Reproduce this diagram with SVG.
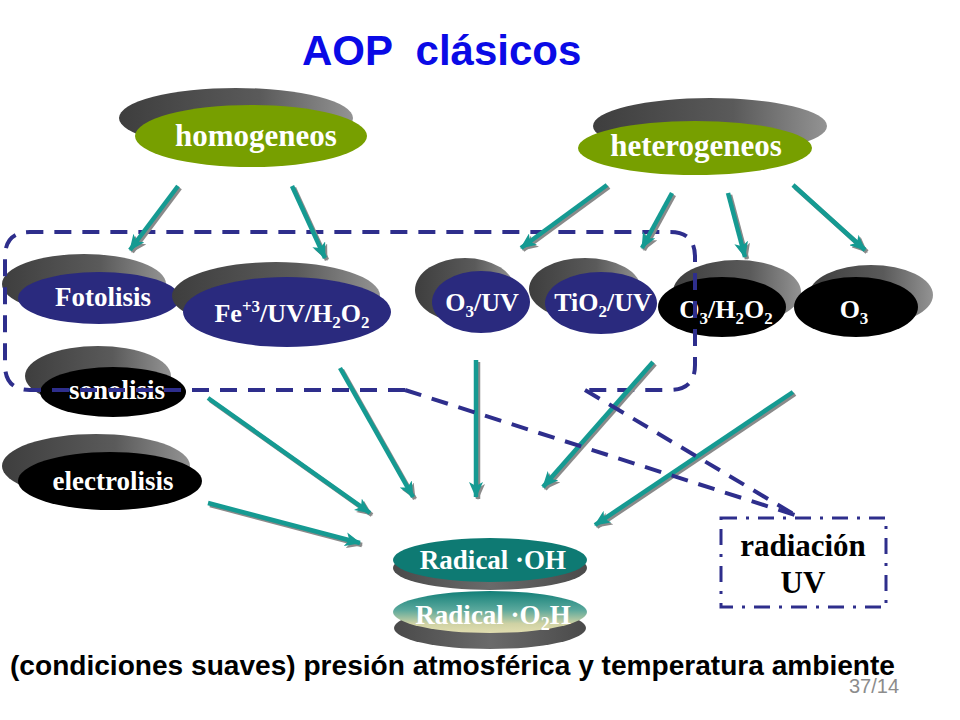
<svg xmlns="http://www.w3.org/2000/svg" width="960" height="720" viewBox="0 0 960 720">
<style>
.nt{font-family:"Liberation Serif","Times New Roman",serif;font-weight:bold;fill:#fff;text-anchor:middle}
.bt{font-family:"Liberation Serif","Times New Roman",serif;font-weight:bold;fill:#000;text-anchor:middle}
.sh{fill:url(#gsh)}
.green{fill:#779f00}
.navy{fill:#2a2a7e}
.blk{fill:#000}
.arr{stroke:#159a92;stroke-width:4.5;fill:none;marker-end:url(#ah)}
.arrs{stroke:#8a8a8a;stroke-width:4.5;fill:none;marker-end:url(#ahs)}
.dash{stroke:#2e2e8c;stroke-width:4;fill:none;stroke-dasharray:17 11}
</style>
<defs>
<linearGradient id="gsh" x1="0" y1="0" x2="1" y2="0">
<stop offset="0" stop-color="#3e3e3e"/>
<stop offset="0.6" stop-color="#5a5a5a"/>
<stop offset="1" stop-color="#939393"/>
</linearGradient>
<linearGradient id="gsh2" x1="0" y1="0" x2="1" y2="0">
<stop offset="0" stop-color="#4a4a4a"/>
<stop offset="0.5" stop-color="#6a6a6a"/>
<stop offset="1" stop-color="#4a4a4a"/>
</linearGradient>
<linearGradient id="go2h" x1="0" y1="0" x2="0" y2="1">
<stop offset="0" stop-color="#127f78"/>
<stop offset="0.45" stop-color="#5aa89c"/>
<stop offset="0.78" stop-color="#cfd2a4"/>
<stop offset="1" stop-color="#e2deb0"/>
</linearGradient>
<marker id="ah" markerUnits="userSpaceOnUse" viewBox="0 0 16 14" refX="15" refY="7" markerWidth="16" markerHeight="14" orient="auto">
<path d="M0,0 L16,7 L0,14 L4,7 z" fill="#159a92"/>
</marker>
<marker id="ahs" markerUnits="userSpaceOnUse" viewBox="0 0 16 14" refX="15" refY="7" markerWidth="16" markerHeight="14" orient="auto">
<path d="M0,0 L16,7 L0,14 L4,7 z" fill="#8a8a8a"/>
</marker>
</defs>
<rect width="960" height="720" fill="#fff"/>

<text x="302" y="65" xml:space="preserve" font-family="Liberation Sans, Arial, sans-serif" font-weight="bold" font-size="42" fill="#0a0ae6">AOP  clásicos</text>

<g id="homogeneos">
<ellipse class="sh" cx="236" cy="118" rx="117" ry="30"/>
<ellipse class="green" cx="251" cy="136" rx="116" ry="31"/>
<text class="nt" x="256" y="146" font-size="31">homogeneos</text>
</g>
<g id="heterogeneos">
<ellipse class="sh" cx="710" cy="126" rx="117" ry="28"/>
<ellipse class="green" cx="695" cy="148" rx="117" ry="27"/>
<text class="nt" x="696" y="156" font-size="31">heterogeneos</text>
</g>
<g id="fotolisis">
<ellipse class="sh" cx="84" cy="284" rx="82" ry="30"/>
<ellipse class="navy" cx="99" cy="298" rx="81" ry="26"/>
<text class="nt" x="103" y="306" font-size="27">Fotolisis</text>
</g>
<g id="fenton">
<ellipse class="sh" cx="276" cy="296" rx="104" ry="34"/>
<ellipse class="navy" cx="287" cy="312" rx="104" ry="35"/>
<text class="nt" x="292" y="322" font-size="26">Fe<tspan font-size="17" dy="-10">+3</tspan><tspan dy="10">/UV/H</tspan><tspan font-size="17" dy="6">2</tspan><tspan dy="-6">O</tspan><tspan font-size="17" dy="6">2</tspan></text>
</g>
<g id="sonolisis">
<ellipse class="sh" cx="98" cy="376" rx="73" ry="30"/>
<ellipse class="blk" cx="113" cy="392" rx="73" ry="25"/>
<text class="nt" x="117" y="399" font-size="27">sonolisis</text>
</g>
<g id="electrolisis">
<ellipse class="sh" cx="96" cy="466" rx="94" ry="32"/>
<ellipse class="blk" cx="110" cy="481" rx="92" ry="29"/>
<text class="nt" x="113" y="490" font-size="27">electrolisis</text>
</g>
<g id="o3uv">
<ellipse class="sh" cx="465" cy="290" rx="50" ry="32"/>
<ellipse class="navy" cx="481" cy="302" rx="49" ry="31"/>
<text class="nt" x="482" y="311" font-size="26">O<tspan font-size="17" dy="6">3</tspan><tspan dy="-6">/UV</tspan></text>
</g>
<g id="tio2uv">
<ellipse class="sh" cx="585" cy="289" rx="56" ry="31"/>
<ellipse class="navy" cx="601" cy="303" rx="56" ry="31"/>
<text class="nt" x="603" y="311" font-size="26">TiO<tspan font-size="17" dy="6">2</tspan><tspan dy="-6">/UV</tspan></text>
</g>
<g id="o3h2o2">
<ellipse class="sh" cx="737" cy="292" rx="64" ry="32"/>
<ellipse class="blk" cx="722" cy="307" rx="64" ry="30"/>
<text class="nt" x="726" y="318" font-size="26">O<tspan font-size="17" dy="6">3</tspan><tspan dy="-6">/H</tspan><tspan font-size="17" dy="6">2</tspan><tspan dy="-6">O</tspan><tspan font-size="17" dy="6">2</tspan></text>
</g>
<g id="o3">
<ellipse class="sh" cx="871" cy="295" rx="62" ry="30"/>
<ellipse class="blk" cx="856" cy="307" rx="62" ry="30"/>
<text class="nt" x="854" y="318" font-size="26">O<tspan font-size="17" dy="6">3</tspan></text>
</g>
<g id="radical-oh">
<ellipse fill="url(#gsh2)" cx="490" cy="568" rx="97" ry="22"/>
<ellipse fill="#0e7a73" cx="490" cy="560" rx="97" ry="22"/>
<text class="nt" x="493" y="569" font-size="27">Radical ·OH</text>
</g>
<g id="radical-o2h">
<ellipse fill="url(#gsh2)" cx="490" cy="628" rx="96" ry="21"/>
<ellipse fill="url(#go2h)" cx="490" cy="612" rx="97" ry="21"/>
<text class="nt" x="493" y="624" font-size="27">Radical ·O<tspan font-size="18" dy="6">2</tspan><tspan dy="-6">H</tspan></text>
</g>
<g id="radiacion-uv">
<rect x="721" y="518" width="165" height="89" fill="none" stroke="#2e2e8c" stroke-width="3" stroke-dasharray="16 9 3 9"/>
<text class="bt" x="803" y="556" font-size="31">radiación</text>
<text class="bt" x="803" y="593" font-size="31">UV</text>
</g>

<g id="region-box">
<path class="dash" d="M405,390 L30,390 Q5,390 5,365 L5,257 Q5,232 30,232 L670,232 Q695,232 695,257 L695,365 Q695,390 670,390 L585,390"/>
</g>

<g id="connectors">
<g transform="translate(2,2)">
<line class="arrs" x1="178" y1="186" x2="130" y2="250"/>
<line class="arrs" x1="292" y1="186" x2="325" y2="258"/>
<line class="arrs" x1="607" y1="185" x2="521" y2="248"/>
<line class="arrs" x1="672" y1="193" x2="642" y2="248"/>
<line class="arrs" x1="728" y1="193" x2="745" y2="257"/>
<line class="arrs" x1="793" y1="185" x2="865" y2="250"/>
<line class="arrs" x1="208" y1="398" x2="370" y2="513"/>
<line class="arrs" x1="208" y1="503" x2="360" y2="543"/>
<line class="arrs" x1="340" y1="368" x2="413" y2="497"/>
<line class="arrs" x1="476" y1="360" x2="476" y2="497"/>
<line class="arrs" x1="653" y1="362" x2="543" y2="487"/>
<line class="arrs" x1="793" y1="392" x2="595" y2="525"/>
</g>
<line class="arr" x1="178" y1="186" x2="130" y2="250"/>
<line class="arr" x1="292" y1="186" x2="325" y2="258"/>
<line class="arr" x1="607" y1="185" x2="521" y2="248"/>
<line class="arr" x1="672" y1="193" x2="642" y2="248"/>
<line class="arr" x1="728" y1="193" x2="745" y2="257"/>
<line class="arr" x1="793" y1="185" x2="865" y2="250"/>
<line class="arr" x1="208" y1="398" x2="370" y2="513"/>
<line class="arr" x1="208" y1="503" x2="360" y2="543"/>
<line class="arr" x1="340" y1="368" x2="413" y2="497"/>
<line class="arr" x1="476" y1="360" x2="476" y2="497"/>
<line class="arr" x1="653" y1="362" x2="543" y2="487"/>
<line class="arr" x1="793" y1="392" x2="595" y2="525"/>
<path class="dash" d="M405,390 L795,515"/>
<path class="dash" d="M585,390 L795,515"/>
</g>

<text x="10" y="675" font-family="Liberation Sans, Arial, sans-serif" font-weight="bold" font-size="27" fill="#000" textLength="885" lengthAdjust="spacingAndGlyphs">(condiciones suaves) presión atmosférica y temperatura ambiente</text>
<text x="849" y="693" font-family="Liberation Sans, Arial, sans-serif" font-size="20" fill="#8c8c8c">37/14</text>
</svg>
